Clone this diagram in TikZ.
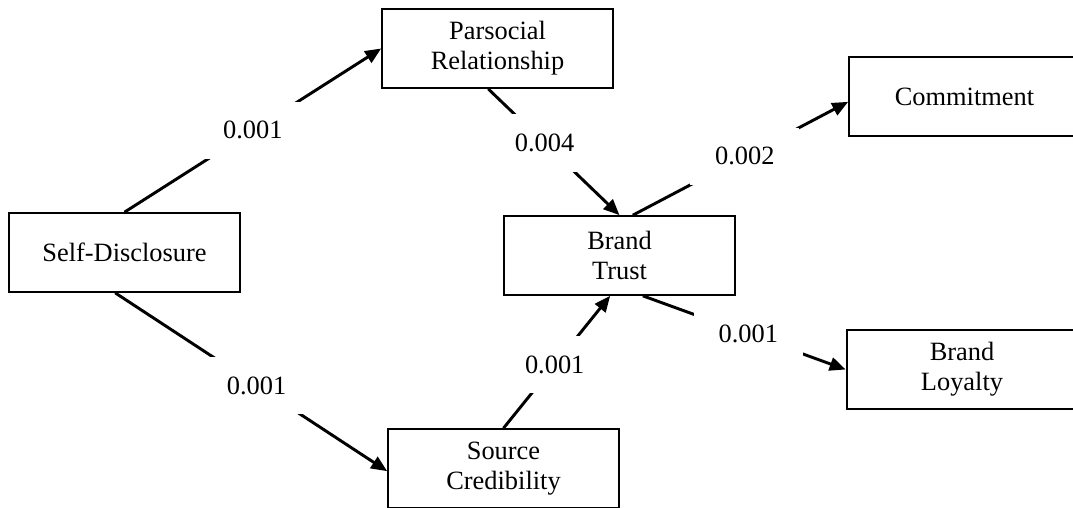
\documentclass[tikz,border=0pt]{standalone}
\usepackage{fontspec}
\setmainfont{Liberation Serif}
\usetikzlibrary{arrows.meta}

\begin{document}
\begin{tikzpicture}[>={Triangle[length=12pt, width=10pt]}, x=0.75pt, y=-0.75pt,
  font=\fontsize{19.8}{22.5}\selectfont,
  var/.style={draw, line width=1.5pt, minimum width=173pt, minimum height=59pt, align=center, inner sep=0pt},
  link/.style={->, line width=2.2pt},
  coef/.style={fill=white, minimum width=82pt, minimum height=43pt, inner sep=0pt}]
  \useasboundingbox (0,0) rectangle (1073,507);
  % ---------------------------------------------------------------- constructs
  \node[var] (self) at (124.5,252.5) {Self-Disclosure};
  \node[var] (para) at (497.5,48.5) {Parsocial\\ Relationship};
  \node[var] (trust) at (619.5,255.5) {Brand\\ Trust};
  \node[var] (source) at (503.5,468.5) {Source\\ Credibility};
  \node[var] (commit) at (964.5,96.5) {Commitment};
  \node[var] (loyal) at (962,369.5) {Brand\\ Loyalty};
  % ---------------------------------------------------------------- paths, each broken by its p-value
  \draw[link] (self.north) -- node[coef, pos=0.5] {0.001} (para.west);
  \draw[link] ([xshift=-7pt]self.south) -- node[coef, pos=0.52] {0.001} ([yshift=-2pt]source.west);
  \draw[link] ([xshift=-7pt]para.south) -- node[coef, pos=0.43] {0.004} (trust.north);
  \draw[link] (source.north) -- node[coef, pos=0.48] {0.001} ([xshift=-7pt]trust.south);
  \draw[link] ([xshift=10pt]trust.north) -- node[coef, pos=0.52] {0.002} ([yshift=-4pt]commit.west);
  \draw[link] ([xshift=17.5pt]trust.south) -- node[coef, pos=0.52] {0.001} (loyal.west);
\end{tikzpicture}
\end{document}
